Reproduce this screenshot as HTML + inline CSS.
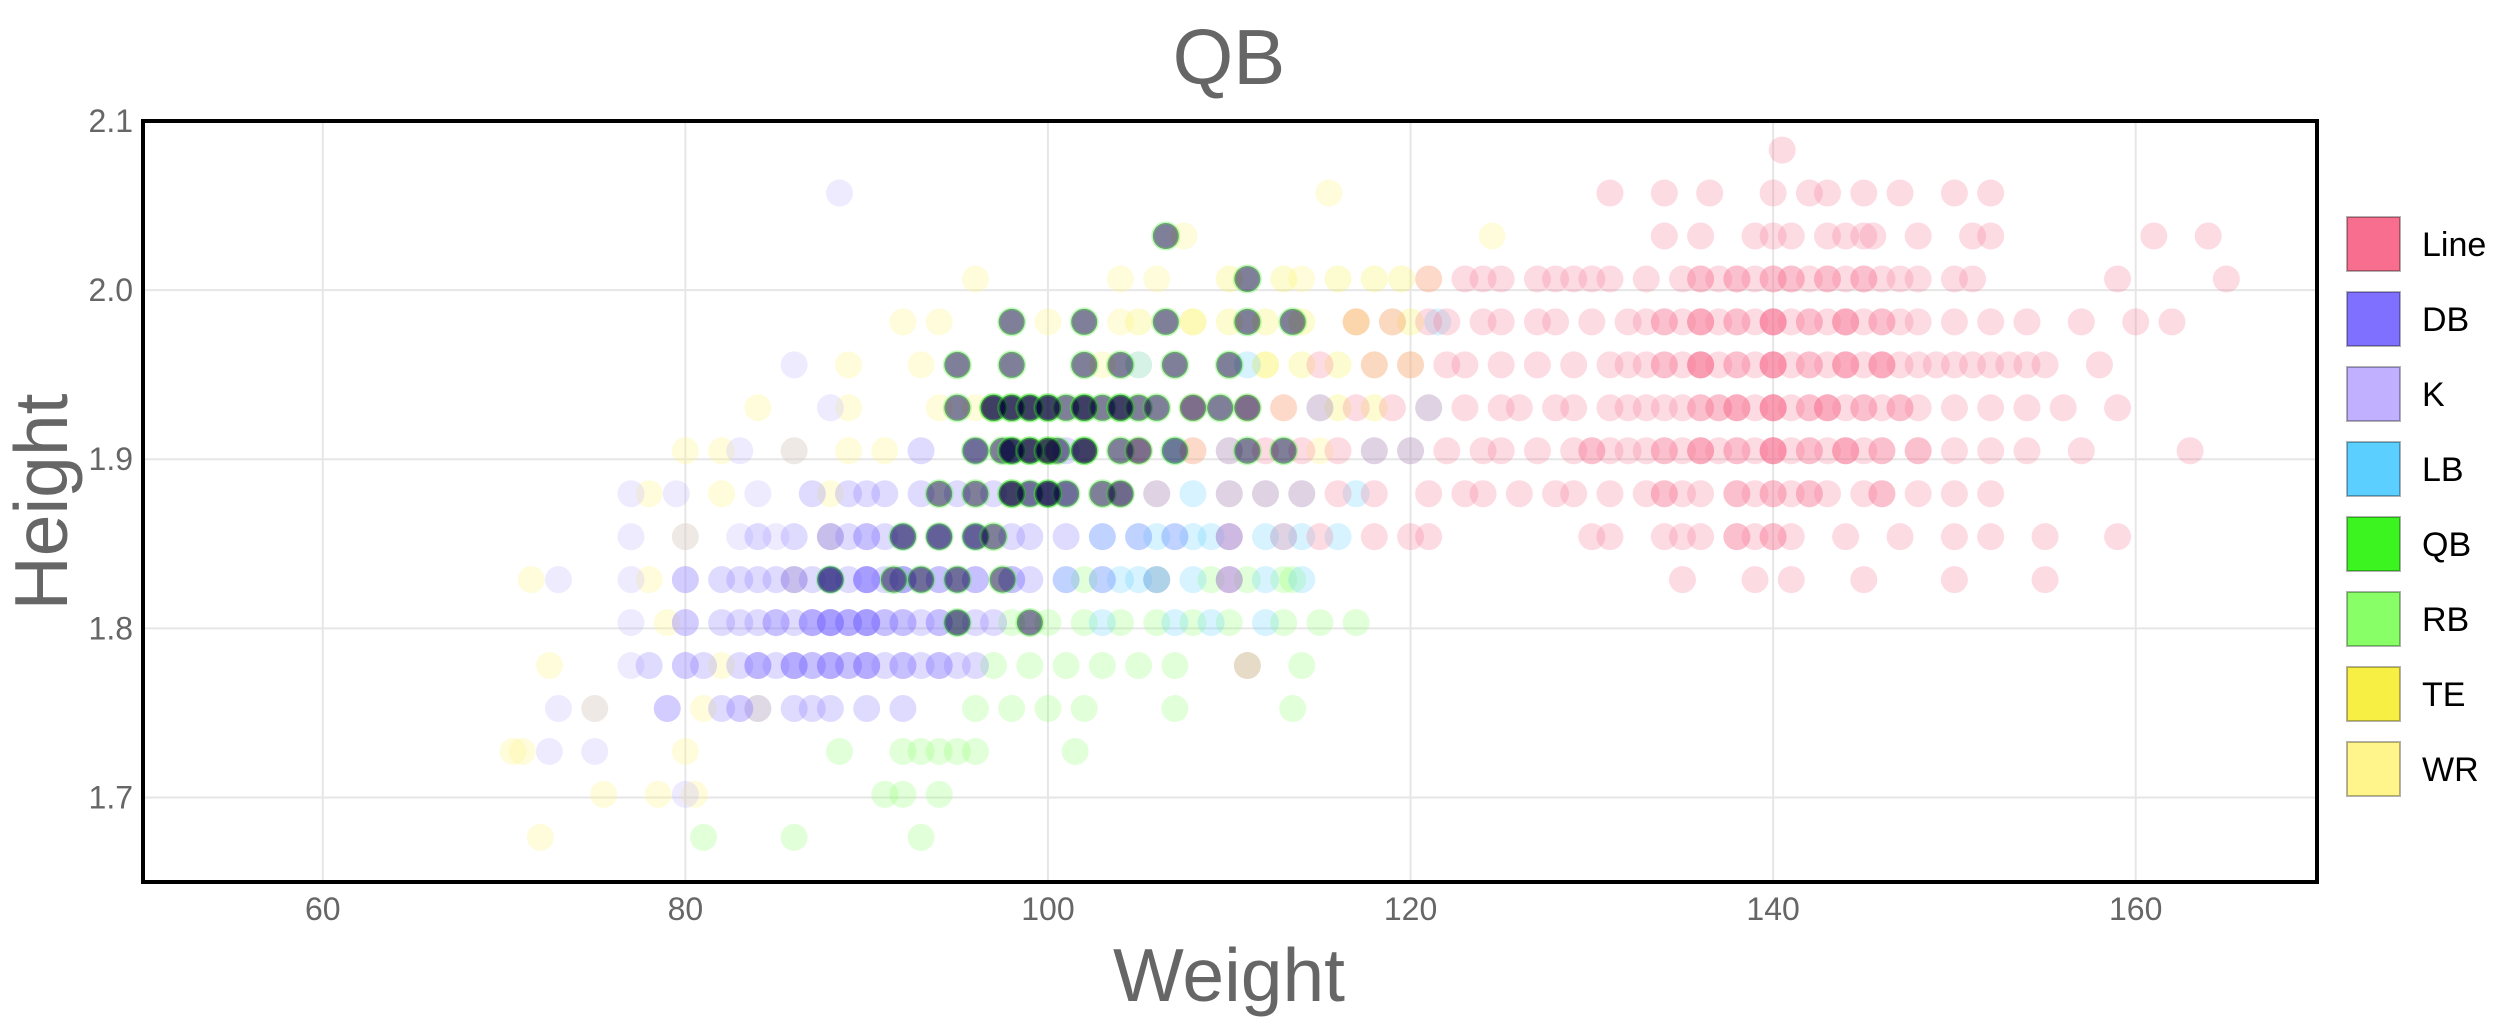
<!DOCTYPE html>
<html><head><meta charset="utf-8"><style>
html,body{margin:0;padding:0;background:#fff;}
svg text{font-family:"Liberation Sans",sans-serif;}
</style></head><body>
<svg id="chart" width="2500" height="1018" viewBox="0 0 2500 1018" xmlns="http://www.w3.org/2000/svg">
<text x="1229" y="84" font-size="78" fill="#666" text-anchor="middle">QB</text>
<g id="grid"></g>
<g id="marks"></g>
<rect x="143" y="121" width="2174" height="761" fill="none" stroke="#000" stroke-width="4"/>
<g id="ticks"></g>
<text x="1229" y="1001" font-size="75" fill="#666" text-anchor="middle">Weight</text>
<text transform="translate(67,502) rotate(-90)" font-size="75" fill="#666" text-anchor="middle">Height</text>
<g id="legend"></g>
</svg>
<script>
const xTicks=[60,80,100,120,140,160];
const yTicks=[1.7,1.8,1.9,2.0,2.1];
const seriesNames=["Line","DB","K","LB","QB","RB","TE","WR"];
const seriesColors=["#f76e8e","#8070ff","#c0b0ff","#5bcfff","#3cf520","#88ff66","#f8ef45","#fff58a"];
// rows: [height in inches, [weights kg]]
const lineRows=[[82,[140.5]],[81,[131,134,136.5,140,142,143,145,147,150,152]],[80,[134,136,139,140,141,143,144,145,145.5,148,151,152,161,164]],[79,[121,123,124,125,127,128,129,130,131,133,135,136,137,138,139,140,141,142,143,144,145,146,147,148,150,151,159,165]],[78,[117,119,121,122,124,125,127,128,130,132,133,134,135,136,137,138,139,140,141,142,143,144,145,146,147,148,150,152,154,157,160,162]],[77,[115,118,120,122,123,125,127,129,131,132,133,134,135,136,137,138,139,140,141,142,143,144,145,146,147,148,149,150,151,152,153,154,155,158]],[76,[108,111,113,115,117,119,121,123,125,126,128,129,131,132,133,134,135,136,137,138,139,140,141,142,143,144,145,146,147,148,150,152,154,156,159]],[75,[105,108,110,112,114,116,118,120,122,124,125,127,129,130,131,132,133,134,135,136,137,138,139,140,141,142,143,144,145,146,148,150,152,154,157,163]],[74,[104,106,110,112,114,116,118,121,123,124,126,128,129,131,133,134,135,136,138,139,140,141,142,143,145,146,148,150,152]],[73,[110,113,115,118,120,121,130,131,134,135,136,138,139,140,141,144,147,150,152,155,159]],[72,[110,135,139,141,145,150,155]],[70,[111]]];
const lineDupRows=[[79,[136,138,140,141,143,145]],[78,[134,136,138,140,140,142,144,146]],[77,[134,136,136,138,140,140,142,144,146,146]],[76,[136,137,138,140,140,142,143,145,147]],[75,[130,134,136,138,140,140,142,144,146,148]],[74,[134,138,140,142,146]],[73,[138,140]],[78,[136,140,144]],[77,[136,140,144]],[76,[138,140,143]],[75,[136,140,144]]];
const dbRows=[[75,[93,96,98,101]],[74,[87,89,90,91,93,95,97,99,100,101]],[73,[84,86,88,89,90,91,92,94,96,98,99,101,103,105,107,110]],[72,[80,82,83,84,85,86,87,88,89,90,91,92,93,94,95,96,98,99,101,103,106,110]],[71,[80,82,83,84,85,86,87,88,89,90,91,92,93,94,95,96,97]],[70,[78,80,81,83,84,85,86,87,88,89,90,91,92,93,94,95,96]],[69,[79,82,83,84,86,87,88,90,92]]];
const dbDupRows=[[73,[88,90,92,94,96]],[72,[86,88,88,90,90,92,94,96,98]],[71,[85,87,88,88,89,90,90,91,92,94]],[70,[84,86,87,88,89,90,92,94]],[72,[88,90,92]],[71,[87,88,89,90]],[70,[86,88,90]]];
const kRows=[[81,[88.5]],[77,[86]],[76,[88]],[75,[83,86]],[74,[77,79.5,84]],[73,[77,80,83,85]],[72,[73,77,80]],[71,[77,80]],[70,[77,80,84]],[69,[73,75,79,83]],[68,[72.5,75]],[67,[80]]];
const lbRows=[[78,[121.5]],[77,[105,111]],[76,[115,121]],[75,[107,110,118,120]],[74,[104,106,108,110,112,114,117]],[73,[103,105,106,107,108,109,110,112,113,114,116]],[72,[101,103,104,105,106,108,110,112,114]],[71,[103,107,109,112]]];
const qbRows=[[80,[106.5]],[79,[111]],[78,[98,102,106.5,111,113.5]],[77,[95,98,102,104,107,110]],[76,[95,97,98,99,100,101,102,103,104,105,106,108,109.5,111]],[75,[96,97.5,98,99,100,100.5,102,104,105,107,111,113]],[74,[94,96,98,99,100,101,103,104]],[73,[92,94,96,97]],[72,[88,91.5,93,95,97.5]],[71,[95,99]]];
const qbDupRows=[[76,[97,98,99,100,102,104]],[75,[98,99,100,102]],[74,[98,100]]];
const rbRows=[[72,[102,106,109,111,113,113.5]],[71,[95,98,100,102,104,106,108,110,113,115,117]],[70,[97,99,101,103,105,107,111,114]],[69,[96,98,100,102,107,113.5]],[68,[88.5,92,93,94,95,96,101.5]],[67,[91,92,94]],[66,[81,86,93]]];
const teRows=[[79,[110,113,116,118,119.5]],[78,[105,108,110,112,114,117,119,120]],[77,[112,114,116,118,120]],[76,[116,118]],[75,[100]]];
const wrRows=[[81,[115.5]],[80,[107.5,124.5]],[79,[96,104,106,114,121]],[78,[92,94,100,104,108,117]],[77,[89,93,103,105,112]],[76,[84,89,94,96,113]],[75,[80,82,86,89,91,108,115]],[74,[78,82,88]],[73,[80,88]],[72,[71.5,78,86]],[71,[79]],[70,[72.5,82]],[69,[75,81,84]],[68,[70.5,71,80]],[67,[75.5,78.5,80.5]],[66,[72]]];

const NS="http://www.w3.org/2000/svg";
const X0=141.5,X1=2317,XMIN=50,XMAX=170,Y0=882,Y1=121,YMIN=1.65,YMAX=2.1;
function xs(v){return X0+(v-XMIN)/(XMAX-XMIN)*(X1-X0);}
function ys(v){return Y0-(v-YMIN)/(YMAX-YMIN)*(Y0-Y1);}
function mk(t,a){const e=document.createElementNS(NS,t);for(const k in a)e.setAttribute(k,a[k]);return e;}
const grid=document.getElementById('grid'),ticks=document.getElementById('ticks');
xTicks.forEach(v=>{
  const l=mk('line',{x1:xs(v),x2:xs(v),y1:Y1,y2:Y0,stroke:'#e6e6e6','stroke-width':2});
  
  
  grid.appendChild(l);
  const t=mk('text',{x:xs(v),y:920,'font-size':32,fill:'#666','text-anchor':'middle'});
  
  
  t.textContent=v;ticks.appendChild(t);
});
yTicks.forEach(v=>{
  const l=mk('line',{x1:X0,x2:X1,y1:ys(v),y2:ys(v),stroke:'#e6e6e6','stroke-width':2});
  
  
  grid.appendChild(l);
  const t=mk('text',{x:133,y:ys(v)+11,'font-size':32,fill:'#666','text-anchor':'end'});
  
  
  t.textContent=v.toFixed(1);ticks.appendChild(t);
});
const marks=document.getElementById('marks');
const order=[[wrRows,7],[teRows,6],[rbRows,5],[lbRows,3],[kRows,2],[dbRows,1],[dbDupRows,1],[lineRows,0],[lineDupRows,0],[qbRows,4],[qbDupRows,4]];
order.forEach(([rows,si])=>{
  const g=mk('g',{});
  
  
  rows.forEach(([hin,ws])=>{
    const h=hin*0.0254;
    ws.forEach(w=>{
      let c;
      if(si===4){c=mk('circle',{cx:xs(w),cy:ys(h),r:13,fill:'#000033','fill-opacity':0.5,stroke:'#3cf520','stroke-opacity':0.3,'stroke-width':3});}
      else{c=mk('circle',{cx:xs(w),cy:ys(h),r:13.5,fill:seriesColors[si],'fill-opacity':si===7?0.3:0.25});}
      
      
      g.appendChild(c);
    });
  });
  marks.appendChild(g);
});
const leg=document.getElementById('legend');
seriesNames.forEach((n,i)=>{
  const cy=244+i*75;
  const g=mk('g',{});
  
  
  const r=mk('rect',{x:2347,y:cy-27,width:53,height:54,fill:seriesColors[i],stroke:'rgba(0,0,0,0.3)','stroke-width':2});
  
  
  const t=mk('text',{x:2422,y:cy+12,'font-size':34,fill:'#000'});
  
  
  t.textContent=n;
  g.appendChild(r);g.appendChild(t);leg.appendChild(g);
});
</script>
</body></html>
